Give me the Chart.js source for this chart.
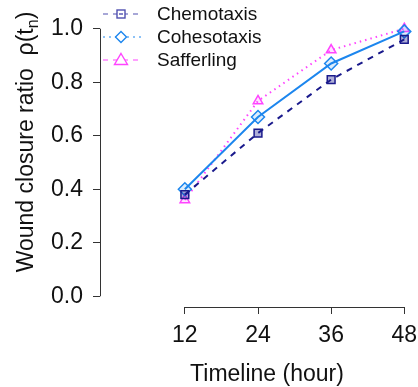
<!DOCTYPE html>
<html>
<head>
<meta charset="utf-8">
<style>
  html, body { margin: 0; padding: 0; background: #fff; }
  #wrap { width: 418px; height: 387px; position: relative; }
</style>
<script src="https://cdn.jsdelivr.net/npm/chart.js@4/dist/chart.umd.min.js"></script>
</head>
<body>
<div id="wrap"><canvas id="c" width="418" height="387"></canvas></div>
<script>
const hours = [12, 24, 36, 48];
const xTicks = [12, 24, 36, 48];
const yTicks = [0, 0.2, 0.4, 0.6, 0.8, 1.0];
const chemotaxis = [0.38, 0.61, 0.81, 0.96];
const cohesotaxis = [0.40, 0.67, 0.87, 0.99];
const safferling = [0.36, 0.73, 0.92, 1.00];
const seriesNames = ['Chemotaxis', 'Cohesotaxis', 'Safferling'];
const xTitle = 'Timeline (hour)';
const yTitleMain = 'Wound closure ratio  \u03C1(t';
const yTitleSub = 'n';
const yTitleEnd = ')';

const NAVY = '#1a1a8c';
const BLUE = '#1c86ee';
const MAG = '#ff44ff';
const FONT = '"Liberation Sans", Arial, sans-serif';

const toPts = arr => hours.map((h, i) => ({ x: h, y: arr[i] }));

const styles = [
  { color: NAVY, dash: [6, 6], width: 2, point: 'rect', radius: 5.5, fill: 'rgba(26,26,140,0.35)', legendDash: [5, 5], legendColor: '#5050b0' },
  { color: BLUE, dash: [], width: 2, point: 'rectRot', radius: 6.5, fill: 'rgba(28,134,238,0.15)', legendDash: [2, 4], legendColor: BLUE },
  { color: MAG, dash: [1.5, 4], width: 2, point: 'triangle', radius: 5.5, fill: 'rgba(255,68,255,0.15)', legendDash: [5, 5], legendColor: MAG }
];
const values = [chemotaxis, cohesotaxis, safferling];

const datasets = values.map((v, i) => ({
  label: seriesNames[i],
  data: toPts(v),
  borderColor: styles[i].color,
  borderWidth: styles[i].width,
  borderDash: styles[i].dash,
  pointStyle: styles[i].point,
  pointRadius: styles[i].radius,
  pointBorderWidth: 1.5,
  pointBorderColor: styles[i].color,
  pointBackgroundColor: styles[i].fill,
  fill: false,
  tension: 0
}));

const decor = {
  id: 'decor',
  afterDraw(chart) {
    const ctx = chart.ctx;
    const xs = chart.scales.x, ys = chart.scales.y;
    ctx.save();
    ctx.strokeStyle = '#333';
    ctx.lineWidth = 1;
    ctx.setLineDash([]);
    const L = Math.round(chart.chartArea.left) + 0.5;
    const B = Math.round(chart.chartArea.bottom) + 0.5;
    ctx.beginPath();
    ctx.moveTo(L, ys.getPixelForValue(yTicks[0]));
    ctx.lineTo(L, ys.getPixelForValue(yTicks[yTicks.length - 1]));
    ctx.moveTo(xs.getPixelForValue(xTicks[0]), B);
    ctx.lineTo(xs.getPixelForValue(xTicks[xTicks.length - 1]), B);
    ctx.stroke();

    // x title
    ctx.fillStyle = '#111';
    ctx.font = '23px ' + FONT;
    ctx.textAlign = 'center';
    ctx.textBaseline = 'alphabetic';
    ctx.fillText(xTitle, 267, 381);

    // y title with subscript
    ctx.save();
    ctx.translate(33, 142);
    ctx.rotate(-Math.PI / 2);
    ctx.textAlign = 'left';
    ctx.font = '23px ' + FONT;
    const w1 = ctx.measureText(yTitleMain).width;
    const w3 = ctx.measureText(yTitleEnd).width;
    ctx.font = '16px ' + FONT;
    const w2 = ctx.measureText(yTitleSub).width;
    const total = w1 + w2 + w3;
    let x0 = -total / 2;
    ctx.font = '23px ' + FONT;
    ctx.fillText(yTitleMain, x0, 0);
    ctx.font = '16px ' + FONT;
    ctx.fillText(yTitleSub, x0 + w1, 5);
    ctx.font = '23px ' + FONT;
    ctx.fillText(yTitleEnd, x0 + w1 + w2, 0);
    ctx.restore();

    // legend
    const rows = [14, 37, 60];
    for (let i = 0; i < 3; i++) {
      const s = styles[i];
      const y = rows[i];
      ctx.strokeStyle = s.legendColor;
      ctx.lineWidth = 1.2;
      ctx.setLineDash(s.legendDash);
      ctx.beginPath();
      ctx.moveTo(103, y);
      ctx.lineTo(141, y);
      ctx.stroke();
      ctx.setLineDash([]);
      ctx.fillStyle = '#fff';
      ctx.lineWidth = 1.4;
      ctx.strokeStyle = s.legendColor;
      const cx = 121;
      if (s.point === 'rect') {
        ctx.fillRect(cx - 4, y - 4, 8, 8);
        ctx.strokeRect(cx - 4, y - 4, 8, 8);
        ctx.beginPath(); ctx.moveTo(cx - 2, y); ctx.lineTo(cx + 2, y); ctx.stroke();
      } else if (s.point === 'rectRot') {
        ctx.beginPath();
        ctx.moveTo(cx, y - 5.5); ctx.lineTo(cx + 5.5, y); ctx.lineTo(cx, y + 5.5); ctx.lineTo(cx - 5.5, y); ctx.closePath();
        ctx.fill(); ctx.stroke();
      } else {
        ctx.beginPath();
        ctx.moveTo(cx, y - 6.5); ctx.lineTo(cx + 6.5, y + 4.5); ctx.lineTo(cx - 6.5, y + 4.5); ctx.closePath();
        ctx.fill(); ctx.stroke();
      }
      ctx.fillStyle = '#111';
      ctx.font = '19px ' + FONT;
      ctx.textAlign = 'left';
      ctx.textBaseline = 'middle';
      ctx.fillText(seriesNames[i], 157, y + 1);
    }
    ctx.restore();
  }
};

new Chart(document.getElementById('c'), {
  type: 'line',
  data: { datasets },
  options: {
    responsive: false,
    animation: false,
    devicePixelRatio: 1,
    layout: { autoPadding: false, padding: { top: 18, right: 2, left: 0, bottom: 0 } },
    plugins: { legend: { display: false }, tooltip: { enabled: false } },
    scales: {
      x: {
        type: 'linear',
        min: -1.92,
        max: 49.92,
        afterBuildTicks: s => { s.ticks = xTicks.map(v => ({ value: v })); },
        afterFit: s => { s.height = 80; s.paddingLeft = 0; s.paddingRight = 0; },
        grid: { drawOnChartArea: false, drawTicks: true, tickLength: 7, color: '#333' },
        border: { display: false },
        ticks: { color: '#111', font: { family: FONT, size: 23 }, padding: 8, autoSkip: false, maxRotation: 0,
                 callback: v => String(v) }
      },
      y: {
        type: 'linear',
        min: -0.04,
        max: 1.04,
        afterBuildTicks: s => { s.ticks = yTicks.map(v => ({ value: v })); },
        afterFit: s => { s.width = 100; s.paddingTop = 0; s.paddingBottom = 0; },
        grid: { drawOnChartArea: false, drawTicks: true, tickLength: 7, color: '#333' },
        border: { display: false },
        ticks: { color: '#111', font: { family: FONT, size: 23 }, padding: 10, autoSkip: false,
                 callback: v => v.toFixed(1) }
      }
    }
  },
  plugins: [decor]
});
</script>
</body>
</html>
